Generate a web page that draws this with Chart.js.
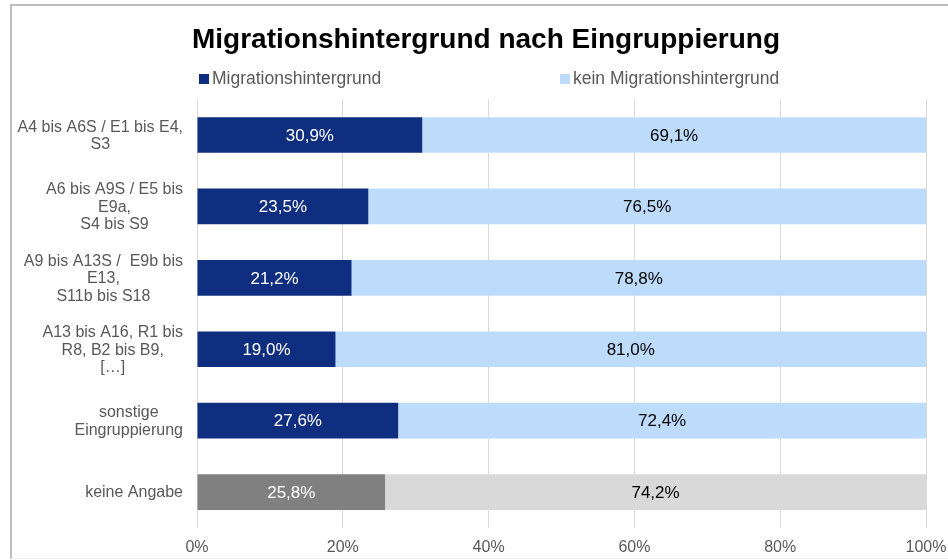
<!DOCTYPE html>
<html>
<head>
<meta charset="utf-8">
<script src="https://cdn.jsdelivr.net/npm/chart.js@4/dist/chart.umd.min.js"></script>
<style>
  html, body { margin: 0; padding: 0; background: #fff; overflow: hidden; width: 948px; height: 560px; }
  #frame { position: absolute; left: 10px; top: 4px; width: 948px; height: 552px;
           border-left: 2px solid #bdbdbd; border-top: 2px solid #bdbdbd; border-bottom: 1px solid #ececec; }
  canvas { display: block; }
</style>
</head>
<body>
<div id="frame"><canvas id="c" width="948" height="552"></canvas></div>
<script>
const titleText = 'Migrationshintergrund nach Eingruppierung';
const categories = [
  ['A4 bis A6S / E1 bis E4,', 'S3'],
  ['A6 bis A9S / E5 bis', 'E9a,', 'S4 bis S9'],
  ['A9 bis A13S /  E9b bis', 'E13,', 'S11b bis S18'],
  ['A13 bis A16, R1 bis', 'R8, B2 bis B9,', '[…]'],
  ['sonstige', 'Eingruppierung'],
  ['keine Angabe']
];
const seriesNames = ['Migrationshintergrund', 'kein Migrationshintergrund'];
const migration = [30.9, 23.5, 21.2, 19.0, 27.6, 25.8];
const noMigration = [69.1, 76.5, 78.8, 81.0, 72.4, 74.2];
const xTicks = [0, 20, 40, 60, 80, 100];

const FONT = '"Liberation Sans", Arial, sans-serif';
const NAVY = '#0f2e80', LIGHT = '#bddcfc', GREY = '#808080', LGREY = '#d9d9d9';
const fmt = v => v.toFixed(1).replace('.', ',') + '%';

const catLabelsPlugin = {
  id: 'catLabels',
  afterDraw(chart) {
    const ctx = chart.ctx, y = chart.scales.y;
    ctx.save();
    ctx.font = '16px ' + FONT;
    ctx.fillStyle = '#595959';
    ctx.textAlign = 'center';
    ctx.textBaseline = 'middle';
    const right = chart.chartArea.left - 14;
    const lh = 17.5;
    categories.forEach((lines, i) => {
      const w = Math.max(...lines.map(l => ctx.measureText(l).width));
      const cx = right - w / 2;
      const cy = y.getPixelForTick(i) + 1;
      lines.forEach((l, k) => {
        ctx.fillText(l, cx, cy + (k - (lines.length - 1) / 2) * lh);
      });
    });
    ctx.restore();
  }
};

const valueLabelsPlugin = {
  id: 'valueLabels',
  afterDatasetsDraw(chart) {
    const ctx = chart.ctx;
    ctx.save();
    ctx.font = '17px ' + FONT;
    ctx.textAlign = 'center';
    ctx.textBaseline = 'middle';
    chart.data.datasets.forEach((ds, di) => {
      const meta = chart.getDatasetMeta(di);
      meta.data.forEach((bar, i) => {
        const cx = (bar.x + bar.base) / 2;
        ctx.fillStyle = di === 0 ? '#ffffff' : '#000000';
        ctx.fillText(fmt(ds.data[i]), cx, bar.y + 1);
      });
    });
    ctx.restore();
  }
};

const legendPlugin = {
  id: 'customLegend',
  afterDraw(chart) {
    const ctx = chart.ctx;
    const a = chart.chartArea;
    const positions = [a.left + 2, a.left + 363];
    const ly = 73;
    ctx.save();
    ctx.font = '17.5px ' + FONT;
    ctx.textBaseline = 'middle';
    ctx.textAlign = 'left';
    chart.data.datasets.forEach((ds, di) => {
      const x = positions[di];
      ctx.fillStyle = ds.backgroundColor[0];
      ctx.fillRect(x, ly - 5, 10, 10);
      ctx.fillStyle = '#595959';
      ctx.fillText(ds.label, x + 13, ly);
    });
    ctx.restore();
  }
};

new Chart(document.getElementById('c'), {
  type: 'bar',
  data: {
    labels: categories.map(c => c.join(' ')),
    datasets: [
      { label: seriesNames[0], data: migration,
        backgroundColor: migration.map((_, i) => i === migration.length - 1 ? GREY : NAVY),
        barPercentage: 0.5, categoryPercentage: 1 },
      { label: seriesNames[1], data: noMigration,
        backgroundColor: noMigration.map((_, i) => i === noMigration.length - 1 ? LGREY : LIGHT),
        barPercentage: 0.5, categoryPercentage: 1 }
    ]
  },
  options: {
    indexAxis: 'y',
    responsive: false,
    animation: false,
    layout: { padding: { left: 34, right: 34, top: 0, bottom: -9 } },
    plugins: {
      legend: { display: false },
      tooltip: { enabled: false },
      title: {
        display: true, text: titleText, color: '#000',
        font: { family: FONT, size: 28, weight: 'bold' },
        padding: { top: 17.2, bottom: 42.5 }
      }
    },
    scales: {
      x: {
        stacked: true, min: 0, max: 100,
        afterBuildTicks: s => { s.ticks = xTicks.map(v => ({ value: v })); },
        ticks: { callback: v => v + '%', color: '#595959', font: { family: FONT, size: 16 }, padding: 10, maxRotation: 0 },
        grid: { color: '#d9d9d9', lineWidth: 1, drawTicks: false },
        border: { display: false }
      },
      y: {
        stacked: true,
        ticks: { display: false },
        grid: { display: false, drawTicks: false },
        border: { display: false },
        afterFit: s => { s.width = 151; }
      }
    }
  },
  plugins: [catLabelsPlugin, valueLabelsPlugin, legendPlugin]
});
</script>
</body>
</html>
